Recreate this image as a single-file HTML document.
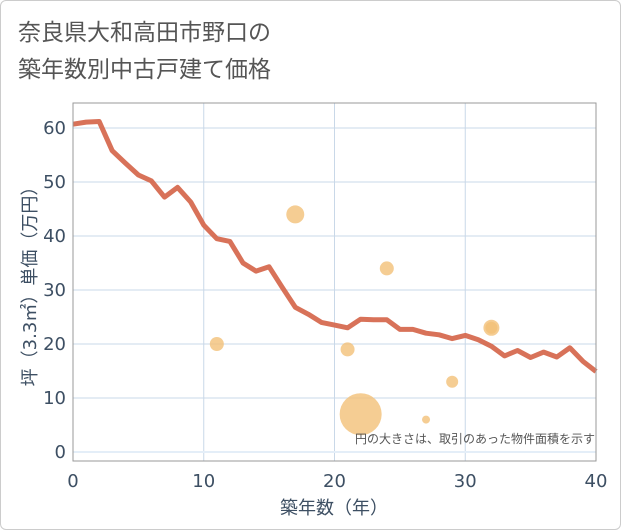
<!DOCTYPE html>
<html><head><meta charset="utf-8"><style>
body{margin:0;background:#fff;font-family:"Liberation Sans","Noto Sans CJK JP",sans-serif}
#wrap{position:relative;width:619px;height:528px;border:1px solid #ccc;border-radius:6px;overflow:hidden}
svg text{font-family:"DejaVu Sans","Noto Sans CJK JP",sans-serif}
</style></head><body>
<div id="wrap">
<svg id="chart" width="621" height="530" style="position:absolute;left:-1px;top:-1px">
<text x="18" y="40" font-size="23" fill="#555">奈良県大和高田市野口の</text>
<text x="18" y="77" font-size="23" fill="#555">築年数別中古戸建て価格</text>
<g id="grid"></g>
<g id="points"></g>
<g id="lineg"></g>
<rect x="73" y="103" width="523" height="358" fill="none" stroke="#999" stroke-width="1"/>
<text x="595" y="443" font-size="12" fill="#555" text-anchor="end">円の大きさは、取引のあった物件面積を示す</text>
<text x="334" y="514" font-size="18" fill="#3d4f63" text-anchor="middle">築年数（年）</text>
<text transform="translate(36,282) rotate(-90)" font-size="18" fill="#3d4f63" text-anchor="middle">坪（3.3㎡）単価（万円）</text>
</svg>
</div>
<script>
const years=[0,1,2,3,4,5,6,7,8,9,10,11,12,13,14,15,16,17,18,19,20,21,22,23,24,25,26,27,28,29,30,31,32,33,34,35,36,37,38,39,40];
const prices=[60.7,61.1,61.2,55.8,53.5,51.3,50.2,47.2,49,46.3,42,39.5,39,35,33.5,34.3,30.5,26.8,25.5,24,23.5,23,24.6,24.5,24.5,22.7,22.7,22,21.7,21,21.6,20.8,19.6,17.8,18.8,17.5,18.5,17.6,19.3,16.8,14.9];
const ptX=[11,17,21,22,24,27,29,32,32];
const ptY=[20,44,19,7,34,6,13,23,23];
const ptR=[7,9,7,21,7,4,6,8,6];
const xTicks=[0,10,20,30,40];
const yTicks=[0,10,20,30,40,50,60];
const NS='http://www.w3.org/2000/svg';
const X=v=>73+v*(523/40);
const Y=v=>452-v*5.4;
function mk(t,a,p){const e=document.createElementNS(NS,t);for(const k in a)e.setAttribute(k,a[k]);p.appendChild(e);return e;}
const grid=document.getElementById('grid'),svg=document.getElementById('chart');
xTicks.forEach(t=>{
 const l=mk('line',{x1:X(t),x2:X(t),y1:103,y2:461,stroke:'#c9d8e8','stroke-width':1},grid);
 
 
 const tx=mk('text',{x:X(t),y:487,'font-size':18,fill:'#3d4f63','text-anchor':'middle'},svg);
 tx.textContent=t;
 
 
});
yTicks.forEach(t=>{
 const l=mk('line',{x1:73,x2:596,y1:Y(t),y2:Y(t),stroke:t===0?'#e4eef8':'#c9d8e8','stroke-width':t===0?2:1},grid);
 
 
 const tx=mk('text',{x:66,y:Y(t)+6,'font-size':18,fill:'#3d4f63','text-anchor':'end'},svg);
 tx.textContent=t;
 
 
});
const pg=document.getElementById('points');
ptX.forEach((x,i)=>{
 const c=mk('circle',{cx:X(x),cy:Y(ptY[i]),r:ptR[i],fill:'#f2c078','fill-opacity':0.8},pg);
 
 
});
const d=years.map((y,i)=>(i?'L':'M')+X(y).toFixed(1)+','+Y(prices[i]).toFixed(1)).join(' ');
const path=mk('path',{d:d,fill:'none',stroke:'#d66a50','stroke-width':5,'stroke-linejoin':'round','stroke-opacity':0.95},document.getElementById('lineg'));


</script>
</body></html>
